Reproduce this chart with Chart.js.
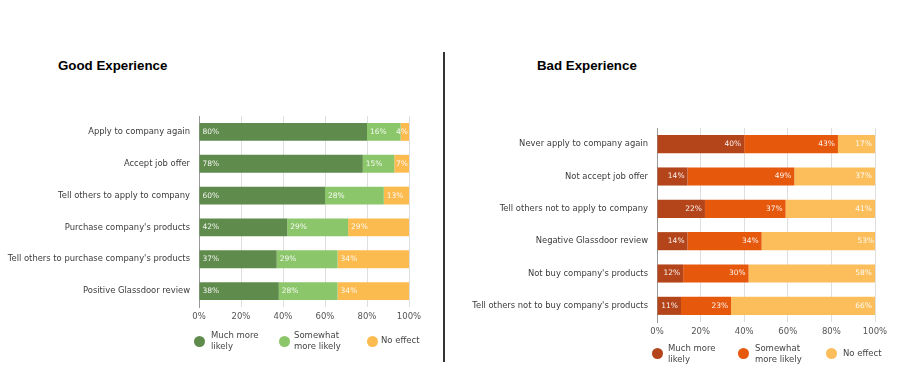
<!DOCTYPE html>
<html>
<head>
<meta charset="utf-8">
<script src="https://cdn.jsdelivr.net/npm/chart.js@4/dist/chart.umd.min.js"></script>
<style>
  body { margin: 0; background: #fff; width: 900px; height: 392px; position: relative; overflow: hidden; font-family: "DejaVu Sans", sans-serif; }
  .title { position: absolute; font: bold 13.3px "Liberation Sans", Arial, sans-serif; color: #000; line-height: 16px; }
  .box { position: absolute; }
  .divider { position: absolute; left: 443px; top: 52px; width: 2px; height: 310px; background: #333; }
  .leg { position: absolute; font-size: 8.5px; color: #444; line-height: 11px; }
  .dot { position: absolute; width: 11px; height: 11px; border-radius: 50%; }
</style>
</head>
<body>
<div class="title" style="left:58px;top:58px">Good Experience</div>
<div class="title" style="left:537px;top:58px">Bad Experience</div>
<div class="divider"></div>

<div class="box" style="left:0;top:100px;width:430px;height:230px"><canvas id="goodChart"></canvas></div>
<div class="box" style="left:440px;top:112px;width:460px;height:233px"><canvas id="badChart"></canvas></div>

<div id="legends"></div>

<script>
const goodLabels = [
  "Apply to company again",
  "Accept job offer",
  "Tell others to apply to company",
  "Purchase company's products",
  "Tell others to purchase company's products",
  "Positive Glassdoor review"
];
const goodMuch = [80, 78, 60, 42, 37, 38];
const goodSomewhat = [16, 15, 28, 29, 29, 28];
const goodNone = [4, 7, 13, 29, 34, 34];

const badLabels = [
  "Never apply to company again",
  "Not accept job offer",
  "Tell others not to apply to company",
  "Negative Glassdoor review",
  "Not buy company's products",
  "Tell others not to buy company's products"
];
const badMuch = [40, 14, 22, 14, 12, 11];
const badSomewhat = [43, 49, 37, 34, 30, 23];
const badNone = [17, 37, 41, 53, 58, 66];

const seriesNames = ["Much more likely", "Somewhat more likely", "No effect"];
const tickValues = [0, 20, 40, 60, 80, 100];

const goodColors = ["#5f8b4c", "#8bc66a", "#fbbb4f"];
const badColors = ["#b4451b", "#e6580c", "#fbbe5a"];

// draws the % text inside each segment
const barText = {
  id: "barText",
  afterDatasetsDraw(chart, args, opts) {
    const ctx = chart.ctx;
    ctx.save();
    ctx.font = "7.5px 'DejaVu Sans'";
    ctx.fillStyle = "rgba(255,255,255,0.92)";
    ctx.textBaseline = "middle";
    chart.data.datasets.forEach((ds, i) => {
      const meta = chart.getDatasetMeta(i);
      meta.data.forEach((bar, j) => {
        const txt = ds.data[j] + "%";
        if (opts.align === "start") {
          // keep narrow segments' text inside the bar end
          const w = ctx.measureText(txt).width;
          ctx.textAlign = "left";
          ctx.fillText(txt, Math.min(bar.base + 3, bar.x - w - 1), bar.y);
        } else {
          ctx.textAlign = "right";
          ctx.fillText(txt, bar.x - 3, bar.y);
        }
      });
    });
    ctx.restore();
  }
};

function makeChart(id, labels, values, colors, yWidth, pad, align) {
  return new Chart(document.getElementById(id), {
    type: "bar",
    data: {
      labels: labels,
      datasets: values.map((v, i) => ({
        label: seriesNames[i],
        data: v,
        backgroundColor: colors[i],
        categoryPercentage: 1,
        barPercentage: 0.56
      }))
    },
    options: {
      indexAxis: "y",
      responsive: true,
      maintainAspectRatio: false,
      animation: false,
      layout: { padding: pad },
      plugins: {
        legend: { display: false },
        tooltip: { enabled: false },
        barText: { align: align }
      },
      scales: {
        x: {
          stacked: true,
          min: 0,
          max: 100,
          afterBuildTicks: s => { s.ticks = tickValues.map(v => ({ value: v })); },
          afterFit: s => { s.height = 23; s.paddingLeft = 0; s.paddingRight = 0; },
          ticks: { callback: v => v + "%", font: { family: "DejaVu Sans", size: 8.5 }, color: "#555", padding: 5, maxRotation: 0 },
          grid: { color: "#dedede", drawTicks: false },
          border: { display: false }
        },
        y: {
          stacked: true,
          afterFit: s => { s.width = yWidth; s.paddingTop = 0; s.paddingBottom = 0; },
          ticks: { font: { family: "DejaVu Sans", size: 8.4 }, color: "#3a3a3a", padding: 9 },
          grid: { display: false, drawTicks: false },
          border: { color: "#999", width: 1 }
        }
      }
    },
    plugins: [barText]
  });
}

makeChart("goodChart", goodLabels, [goodMuch, goodSomewhat, goodNone], goodColors, 199,
  { top: 16, right: 21, bottom: 0, left: 0 }, "start");
makeChart("badChart", badLabels, [badMuch, badSomewhat, badNone], badColors, 217,
  { top: 16, right: 25, bottom: 0, left: 0 }, "end");

// html legends
const legendSpots = [
  { colors: goodColors, dots: [[199, 341], [284, 341], [372, 341]], texts: [[211, 330], [294, 330], [381, 335]] },
  { colors: badColors, dots: [[657, 353], [743, 353], [831, 353]], texts: [[668, 343], [755, 343], [843, 348]] }
];
const legendText = ["Much more<br>likely", "Somewhat<br>more likely", "No effect"];
const legendBox = document.getElementById("legends");
legendSpots.forEach(spot => {
  spot.colors.forEach((c, i) => {
    const dot = document.createElement("div");
    dot.className = "dot";
    dot.style.background = c;
    dot.style.left = (spot.dots[i][0] - 5.5) + "px";
    dot.style.top = (spot.dots[i][1] - 5.5) + "px";
    legendBox.appendChild(dot);
    const t = document.createElement("div");
    t.className = "leg";
    t.innerHTML = legendText[i];
    t.style.left = spot.texts[i][0] + "px";
    t.style.top = spot.texts[i][1] + "px";
    legendBox.appendChild(t);
  });
});
</script>
</body>
</html>
